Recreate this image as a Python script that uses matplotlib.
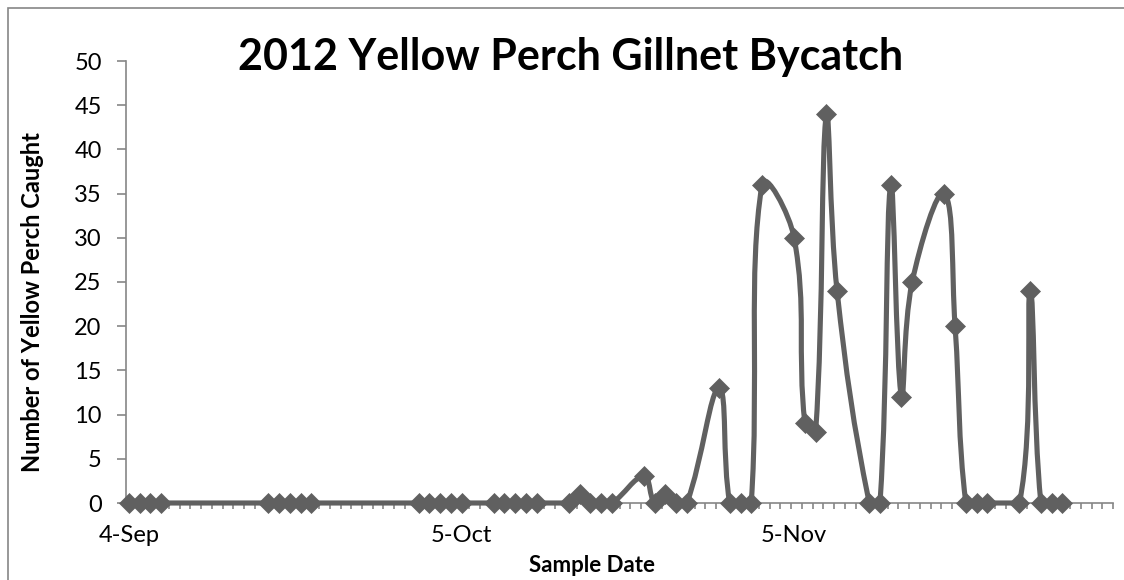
import matplotlib

matplotlib.use("Agg")
import matplotlib.dates as mdates
import matplotlib.pyplot as plt
import numpy as np
import pandas as pd
from matplotlib.patches import PathPatch, Rectangle
from matplotlib.path import Path
from matplotlib.ticker import FixedLocator, NullFormatter

# Sample dates (2012) and yellow perch caught per gillnet set
sample_dates = [
    "2012-09-04", "2012-09-05", "2012-09-06", "2012-09-07",
    "2012-09-17", "2012-09-18", "2012-09-19", "2012-09-20", "2012-09-21",
    "2012-10-01", "2012-10-02", "2012-10-03", "2012-10-04", "2012-10-05",
    "2012-10-08", "2012-10-09", "2012-10-10", "2012-10-11", "2012-10-12",
    "2012-10-15", "2012-10-16", "2012-10-17", "2012-10-18", "2012-10-19",
    "2012-10-22", "2012-10-23", "2012-10-24", "2012-10-25", "2012-10-26",
    "2012-10-29", "2012-10-30", "2012-10-31", "2012-11-01",
    "2012-11-02", "2012-11-05", "2012-11-06", "2012-11-07", "2012-11-08", "2012-11-09",
    "2012-11-12", "2012-11-13", "2012-11-14", "2012-11-15", "2012-11-16",
    "2012-11-19", "2012-11-20", "2012-11-21", "2012-11-22", "2012-11-23",
    "2012-11-26", "2012-11-27", "2012-11-28", "2012-11-29", "2012-11-30",
]
perch_caught = [
    0, 0, 0, 0,
    0, 0, 0, 0, 0,
    0, 0, 0, 0, 0,
    0, 0, 0, 0, 0,
    0, 1, 0, 0, 0,
    3, 0, 1, 0, 0,
    13, 0, 0, 0,
    36, 30, 9, 8, 44, 24,
    0, 0, 36, 12, 25,
    35, 20, 0, 0, 0,
    0, 24, 0, 0, 0,
]
label_dates = ["2012-09-04", "2012-10-05", "2012-11-05"]
label_text = ["4-Sep", "5-Oct", "5-Nov"]
y_ticks = [0, 5, 10, 15, 20, 25, 30, 35, 40, 45, 50]

title_text = "2012 Yellow Perch Gillnet Bycatch"
x_title = "Sample Date"
y_title = "Number of Yellow Perch Caught"

line_grey = "#606060"
axis_grey = "#868686"
font = ["Lato", "DejaVu Sans"]


def smooth_path(ax, x, y, tension=0.4, floor=0.0):
    # bezier smoothing similar to Excel's smoothed line, built in pixel space.
    # control arms are weighted by segment length so short hops stay tight,
    # and kept above the floor so flat runs of zeros don't dip below the axis
    pts = ax.transData.transform(np.column_stack([x, y]))
    floor_px = ax.transData.transform((x[0], floor))[1]
    n = len(pts)
    verts = [pts[0]]
    codes = [Path.MOVETO]
    for i in range(n - 1):
        p0 = pts[max(i - 1, 0)]
        p1 = pts[i]
        p2 = pts[i + 1]
        p3 = pts[min(i + 2, n - 1)]
        d01 = np.hypot(*(p1 - p0))
        d12 = np.hypot(*(p2 - p1))
        d23 = np.hypot(*(p3 - p2))
        f1 = tension * d12 / (d01 + d12) if d01 + d12 > 0 else 0
        f2 = tension * d12 / (d12 + d23) if d12 + d23 > 0 else 0
        c1 = p1 + f1 * (p2 - p0)
        c2 = p2 - f2 * (p3 - p1)
        c1[1] = max(c1[1], floor_px)
        c2[1] = max(c2[1], floor_px)
        verts += [c1, c2, p2]
        codes += [Path.CURVE4] * 3
    return Path(ax.transData.inverted().transform(np.array(verts)), codes)


plt.rcParams["font.family"] = font

W, H = 1124, 580
fig = plt.figure(figsize=(W / 100, H / 100), dpi=100)
fig.patch.set_facecolor("white")

ax_left, ax_right, ax_top, ax_bottom = 126, 1113, 61, 503
ax = fig.add_axes([ax_left / W, 1 - ax_bottom / H, (ax_right - ax_left) / W, (ax_bottom - ax_top) / H])

x = mdates.date2num(pd.to_datetime(sample_dates))
start = mdates.date2num(pd.Timestamp("2012-09-04")) - 0.28
ax.set_xlim(start, start + 92)
ax.set_ylim(0, 50)

path = smooth_path(ax, x, perch_caught)
ax.add_patch(PathPatch(path, facecolor="none", edgecolor=line_grey, lw=3.7,
                       capstyle="round", joinstyle="round", clip_on=False, zorder=3))
ax.plot(x, perch_caught, ls="none", marker="D", ms=10.5, mew=0.5,
        color=line_grey, clip_on=False, zorder=4)

for side in ["top", "right"]:
    ax.spines[side].set_visible(False)
for side in ["left", "bottom"]:
    ax.spines[side].set_color(axis_grey)
    ax.spines[side].set_linewidth(1.2)

ax.yaxis.set_major_locator(FixedLocator(y_ticks))
ax.tick_params(axis="y", direction="out", length=6.5, width=1.2, color=axis_grey,
               labelsize=17, pad=11)

ax.xaxis.set_major_locator(FixedLocator(mdates.date2num(pd.to_datetime(label_dates))))
ax.set_xticklabels(label_text)
ax.xaxis.set_minor_locator(FixedLocator(start + np.arange(0, 93)))
ax.xaxis.set_minor_formatter(NullFormatter())
ax.tick_params(axis="x", which="major", length=0, labelsize=17, pad=16)
ax.tick_params(axis="x", which="minor", direction="out", length=4, width=1.2, color=axis_grey)

fig.text(33 / W, 1 - 302 / H, y_title, rotation=90, ha="center", va="center",
         fontsize=17, fontweight="bold")
fig.text(592 / W, 1 - 565 / H, x_title, ha="center", va="center",
         fontsize=16, fontweight="bold")
fig.text(571 / W, 1 - 70 / H, title_text, ha="center", va="baseline",
         fontsize=31, fontweight="bold")

# chart area border (cut off at the right and bottom)
fig.add_artist(Rectangle((7.5 / W, -0.1), 1.2, 1 - 7.5 / H + 0.1, transform=fig.transFigure,
                         fill=False, edgecolor=axis_grey, lw=1.2))

fig.savefig("out.png", dpi=100)
